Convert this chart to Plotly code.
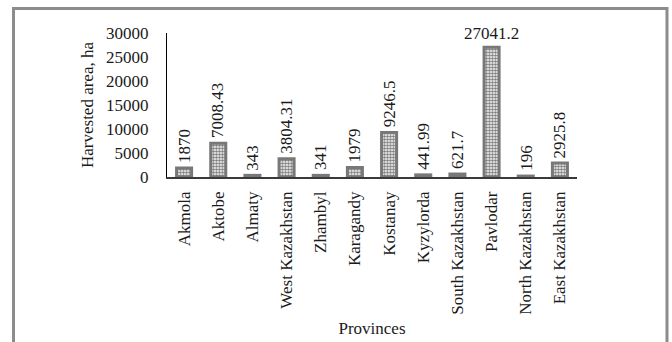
import plotly.graph_objects as go

provinces = ["Akmola", "Aktobe", "Almaty", "West Kazakhstan", "Zhambyl", "Karagandy",
             "Kostanay", "Kyzylorda", "South Kazakhstan", "Pavlodar", "North Kazakhstan",
             "East Kazakhstan"]
harvested_ha = [1870, 7008.43, 343, 3804.31, 341, 1979, 9246.5, 441.99, 621.7, 27041.2, 196, 2925.8]
y_ticks = [0, 5000, 10000, 15000, 20000, 25000, 30000]

FONT = "Liberation Serif"
FS = 17
TXT = "#1a1a1a"
W, H = 672, 342
L, R, T, B = 167, 95, 33, 165
pw, ph = W - L - R, H - T - B

def px_to_paper_x(px):
    return (px - L) / pw

def px_to_paper_y(py):
    return (H - B - py) / ph

fig = go.Figure(go.Bar(
    x=provinces, y=harvested_ha,
    marker=dict(color="#ffffff", line=dict(color="#787878", width=3),
                pattern=dict(shape=".", fgcolor="#7e7e7e", bgcolor="#ffffff",
                             size=3, solidity=0.6, fillmode="replace")),
    hoverinfo="x+y",
))

# value labels: vertical above most bars, horizontal for the tallest one
top = max(harvested_ha)
for name, v in zip(provinces, harvested_ha):
    horizontal = v == top
    fig.add_annotation(
        x=name, y=v, text=f"{v:g}", showarrow=False,
        textangle=0 if horizontal else -90,
        xanchor="center", yanchor="bottom", yshift=2 if horizontal else 3,
        font=dict(family=FONT, size=FS, color=TXT),
    )

# outer frame around the whole chart
fig.add_shape(type="rect", xref="paper", yref="paper",
              x0=px_to_paper_x(13.5), x1=px_to_paper_x(667),
              y0=px_to_paper_y(360), y1=px_to_paper_y(8.5),
              line=dict(color="#8c8c8c", width=3), fillcolor="rgba(0,0,0,0)",
              layer="below")

fig.update_layout(
    width=W, height=H,
    margin=dict(l=L, r=R, t=T, b=B),
    paper_bgcolor="white", plot_bgcolor="white",
    bargap=0.56, showlegend=False,
    font=dict(family=FONT, size=FS, color=TXT),
)
fig.update_yaxes(
    range=[0, 30000], tickvals=y_ticks, ticktext=[str(t) for t in y_ticks],
    showgrid=False, zeroline=False, showline=True, linecolor="#000000", linewidth=1,
    ticks="", ticklabelstandoff=14, automargin=False,
    title=dict(text="Harvested area, ha", font=dict(family=FONT, size=FS), standoff=8),
)
fig.update_xaxes(
    showgrid=False, showline=True, linecolor="#3a3a3a", linewidth=1.5,
    ticks="", tickangle=-90, ticklabelstandoff=6, automargin=False,
    title=dict(text="Provinces", font=dict(family=FONT, size=FS), standoff=8),
)

fig.write_html("out.html")
